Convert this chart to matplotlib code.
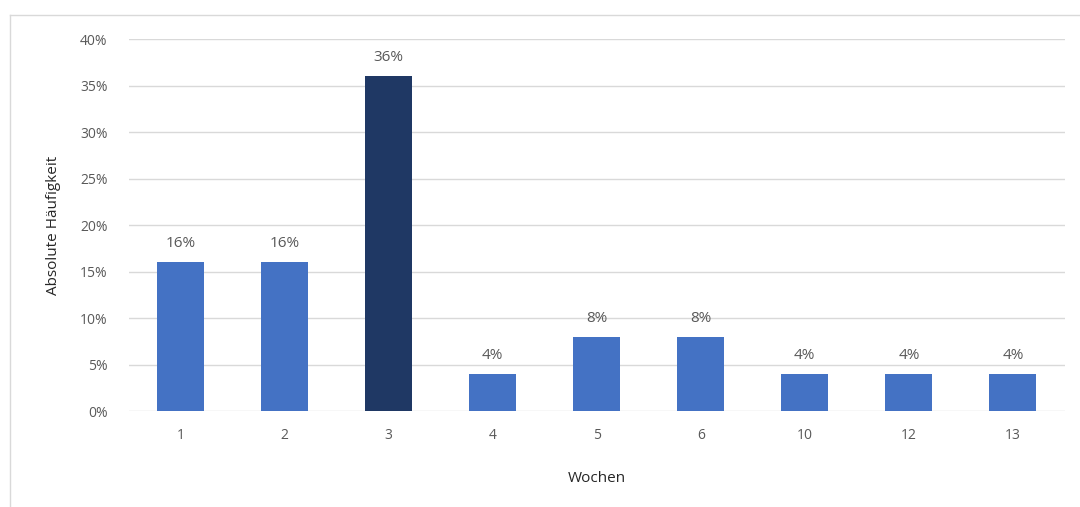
import matplotlib
matplotlib.use("Agg")
import matplotlib.pyplot as plt
from matplotlib.ticker import PercentFormatter
from matplotlib.lines import Line2D

weeks = ["1", "2", "3", "4", "5", "6", "10", "12", "13"]
shares = [0.16, 0.16, 0.36, 0.04, 0.08, 0.08, 0.04, 0.04, 0.04]
highlight = "3"
y_ticks = [0.0, 0.05, 0.10, 0.15, 0.20, 0.25, 0.30, 0.35, 0.40]

plt.rcParams["font.family"] = ["Open Sans", "DejaVu Sans"]
text_color = "#595959"
bar_color = "#4472C4"
bar_dark = "#1F3864"
grid_color = "#D9D9D9"

fig = plt.figure(figsize=(10.8, 5.07), dpi=100)
ax = fig.add_axes([0.119, 0.189, 0.867, 0.734])

x = list(range(len(weeks)))
colors = [bar_dark if w == highlight else bar_color for w in weeks]
bars = ax.bar(x, shares, width=0.45, color=colors, zorder=3)

for rect, v in zip(bars, shares):
    ax.annotate(f"{v * 100:.0f}%", (rect.get_x() + rect.get_width() / 2, v),
                xytext=(0, 8), textcoords="offset points",
                ha="center", va="bottom", fontsize=11, color=text_color)

ax.set_xlim(-0.5, len(weeks) - 0.5)
ax.set_ylim(0, 0.40)
ax.set_yticks(y_ticks)
ax.yaxis.set_major_formatter(PercentFormatter(1.0, decimals=0))
ax.set_xticks(x)
ax.set_xticklabels(weeks)
ax.tick_params(axis="both", length=0, labelsize=10, colors=text_color)
ax.tick_params(axis="x", pad=12)
ax.tick_params(axis="y", pad=15)

ax.grid(axis="y", color=grid_color, linewidth=1, zorder=0)
for s in ax.spines.values():
    s.set_visible(False)

ax.set_xlabel("Wochen", fontsize=11, color="#262626", labelpad=20)
ax.set_ylabel("Absolute Häufigkeit", fontsize=11, color="#262626", labelpad=14)

# chart frame edges
fig.add_artist(Line2D([10 / 1080, 10 / 1080], [0, 1 - 15 / 507],
                      transform=fig.transFigure, color=grid_color, linewidth=1))
fig.add_artist(Line2D([10 / 1080, 1], [1 - 15 / 507, 1 - 15 / 507],
                      transform=fig.transFigure, color=grid_color, linewidth=1))

fig.savefig("out.png", dpi=100)
